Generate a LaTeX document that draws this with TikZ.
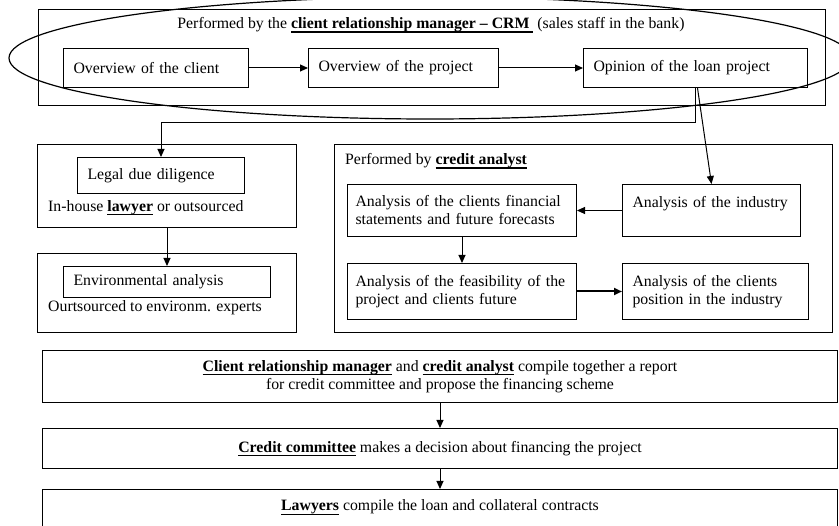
\documentclass[tikz,border=0pt]{standalone}
\usepackage{fontspec}
\setmainfont{Liberation Serif}
\usepackage{tikz}
\usetikzlibrary{arrows.meta}

% bold text with a heavy underline
\newcommand{\ulbold}[1]{\setbox0\hbox{\textbf{#1}}\rlap{\rule[-4pt]{\wd0}{1.3pt}}\box0\relax}

\tikzset{
  box/.style={draw, line width=1pt, anchor=north west, align=left, inner xsep=10pt, inner ysep=0pt},
  wide/.style={box, align=center, minimum width=795pt},
  arr/.style={line width=1pt, -{Triangle[length=8pt,width=7pt]}},
  fat/.style={arr, line width=2pt},
  txt/.style={anchor=west, inner sep=0pt}
}

\begin{document}
\begin{tikzpicture}[x=1pt, y=-1pt, every node/.append style={font=\fontsize{15.8}{18}\selectfont}]
\useasboundingbox (0,0) rectangle (839,526);

% client relationship manager
\node[box, minimum width=787pt, minimum height=96pt] (crm) at (38,9) {};
\node[inner sep=0pt] (crmtitle) at (431,25) {Performed by the \ulbold{client relationship manager -- CRM\ }\ (sales staff in the bank)};
\node[box, text width=165pt, minimum height=39pt] (cli) at (63,48) {Overview of the client};
\node[box, text width=170pt, minimum height=39pt] (prj) at (308,48) {Overview of the project};
\node[box, text width=204pt, minimum height=39pt] (opi) at (583,48) {Opinion of the loan project};
\draw[line width=1.2pt] (430,58) ellipse [x radius=421, y radius=61];

% legal and environmental checks
\node[box, minimum width=259pt, minimum height=83pt] (lgo) at (37,144) {};
\node[box, text width=147pt, minimum height=36pt] (dd) at (77,157) {Legal due diligence};
\node[txt] (lgotxt) at (48,208) {In-house \ulbold{lawyer} or outsourced};
\node[box, minimum width=259pt, minimum height=79pt] (envo) at (37,253) {};
\node[box, text width=187pt, minimum height=31pt] (env) at (63,266) {Environmental analysis};
\node[txt] (envtxt) at (48,308) {Ourtsourced to environm. experts};

% credit analyst
\node[box, minimum width=498pt, minimum height=188pt] (cro) at (334,144) {};
\node[txt] (crotxt) at (345,161) {Performed by \ulbold{credit analyst}};
\node[box, inner xsep=8pt, text width=213pt, minimum height=52pt] (fin) at (347,184) {Analysis of the clients financial\\statements and future forecasts};
\node[box, text width=158pt, minimum height=52pt] (ind) at (622,184) {Analysis of the industry\\\mbox{}};
\node[box, inner xsep=8pt, text width=213pt, minimum height=56pt] (fea) at (347,263) {Analysis of the feasibility of the\\project and clients future};
\node[box, text width=166pt, minimum height=56pt] (pos) at (622,263) {Analysis of the clients\\position in the industry};

% decision chain
\node[wide, minimum height=52pt] (rep) at (42,350) {\ulbold{Client relationship manager} and \ulbold{credit analyst} compile together a report\\for credit committee and propose the financing scheme};
\node[wide, minimum height=40pt] (com) at (42,428) {\raisebox{4pt}{\ulbold{Credit committee} makes a decision about financing the project}};
\node[wide, minimum height=50pt] (law) at (42,489) {\ulbold{Lawyers} compile the loan and collateral contracts\\\mbox{}};

\draw[arr] (cli) -- (prj);
\draw[arr] (prj) -- (opi);
\draw[arr] (opi.south) -- ++(0,35) -| (dd.north);
\draw[arr] ([xshift=2pt]opi.south) -- (ind.north);
\draw[arr] (lgo.south) -- (env.north);
\draw[arr] (ind) -- (fin);
\draw[arr] (fin) -- (fea);
\draw[fat] (fea) -- (pos);
\draw[arr] (rep) -- (com);
\draw[arr] (com) -- (law);
\end{tikzpicture}
\end{document}
